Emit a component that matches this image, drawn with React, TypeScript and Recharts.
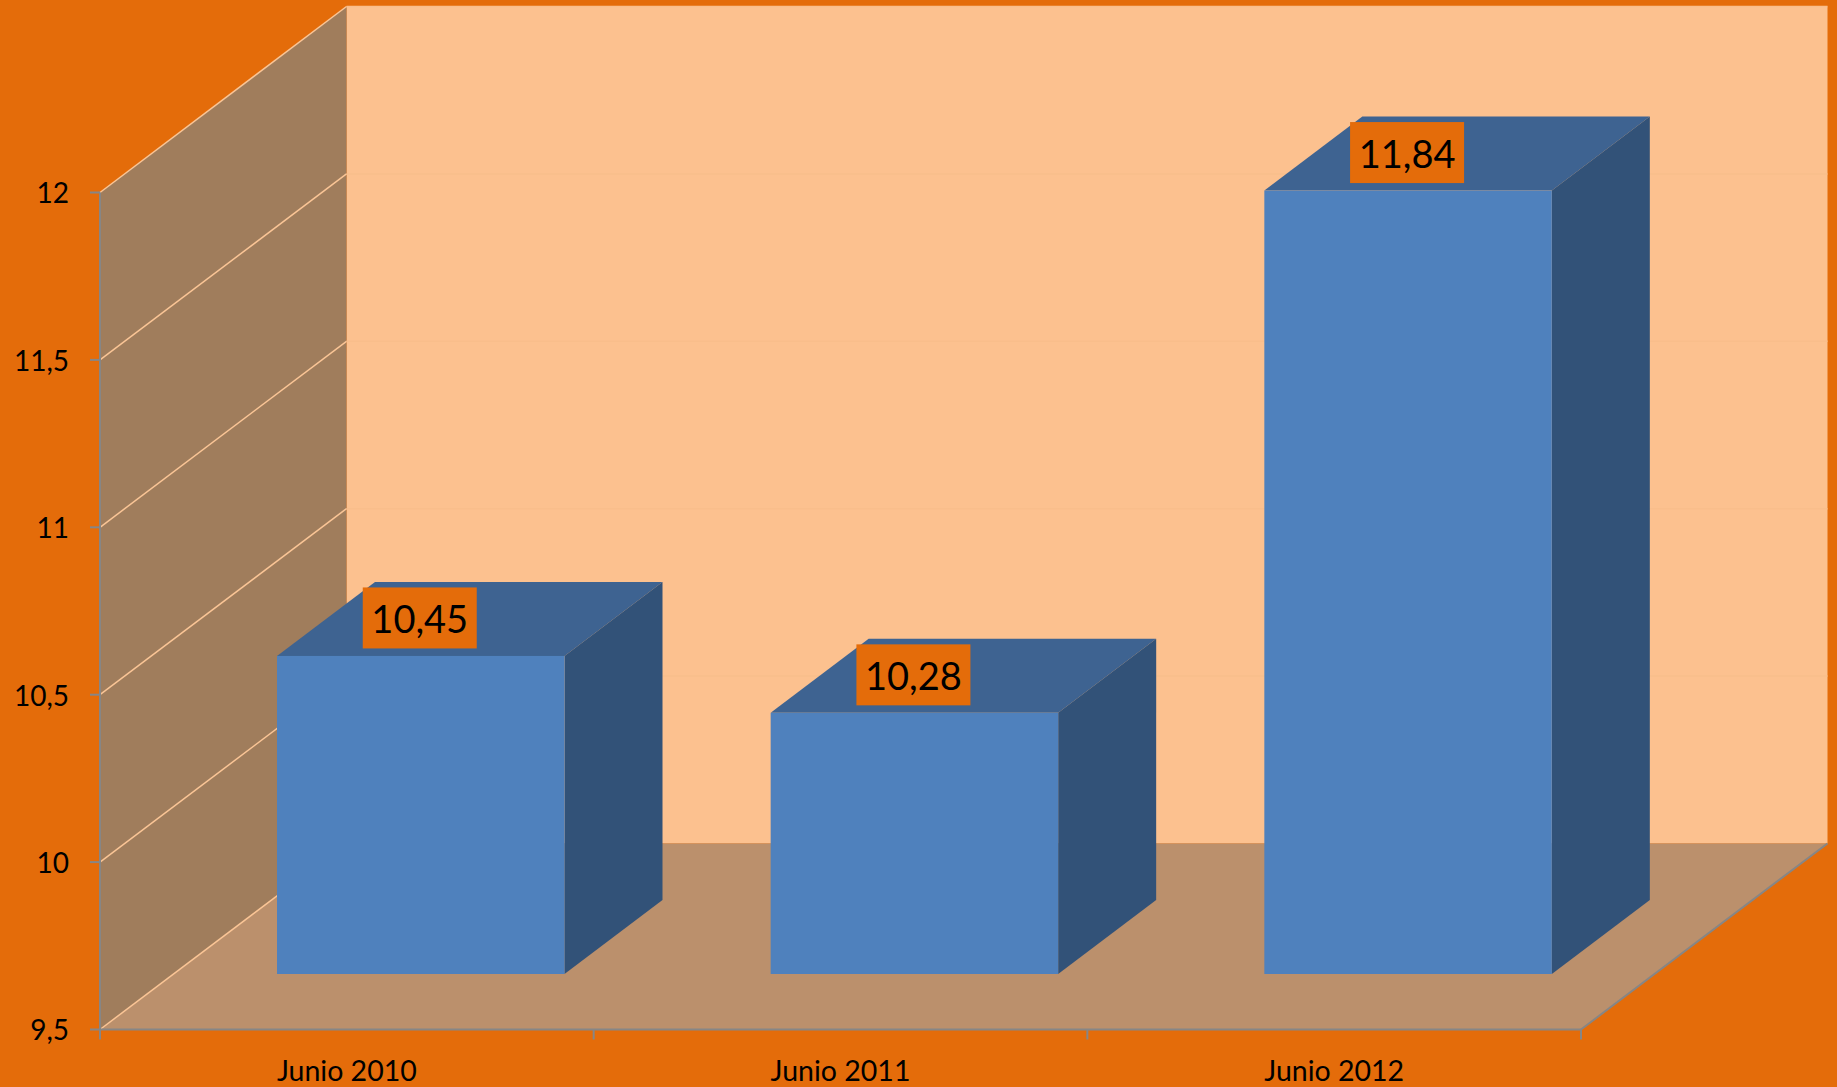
import React from 'react';
import { BarChart, Bar, XAxis, YAxis, ReferenceArea, ReferenceLine, LabelList } from 'recharts';

const categories = ['Junio 2010', 'Junio 2011', 'Junio 2012'];
const seriesValues = [10.45, 10.28, 11.84];
const yTicks = [9.5, 10, 10.5, 11, 11.5, 12];
const chartRows = categories.map((name, i) => ({ name, value: seriesValues[i] }));

// Oblique projection used for the walls and for the boxes.
const WALL_DX = 246.5;
const WALL_DY = 186;
const FRONT_DX = 74;
const FRONT_DY = 55.5;
const BOX_DX = 98;
const BOX_DY = 74;

const PAGE = '#E46C0A';
const BACK_WALL = '#FCC18F';
const SIDE_WALL = '#A07D5C';
const FLOOR = '#BB906C';
const RIM = '#FAC596';
const AXIS = '#868686';
const FONT = 'Lato, "Open Sans", sans-serif';

const comma = (v: number | string) => String(v).replace('.', ',');
const pts = (list: number[][]) => list.map((p) => p.join(',')).join(' ');

// Back wall, side wall and floor built from the plot rectangle.
function Room(props: any) {
  const { x, y, width, height } = props;
  const l = x;
  const r = x + width;
  const t = y;
  const b = y + height;
  const bl = l + WALL_DX;
  const br = r + WALL_DX;
  const tb = t - WALL_DY;
  const bb = b - WALL_DY;
  return (
    <g>
      <rect x={bl} y={tb} width={br - bl} height={bb - tb} fill={BACK_WALL} />
      <polygon points={pts([[l, t], [bl, tb], [bl, bb], [l, b]])} fill={SIDE_WALL} />
      <polygon points={pts([[l, b], [bl, bb], [br, bb], [r, b]])} fill={FLOOR} />
      <line x1={r} y1={b} x2={br} y2={bb} stroke={AXIS} strokeWidth={2} />
      <line x1={l} y1={b} x2={bl} y2={bb} stroke={RIM} strokeWidth={1.5} />
    </g>
  );
}

// One gridline: slanted over the side wall, then faint across the back wall.
function WallLine(props: any) {
  const { x1, y1, x2 } = props;
  const left = Math.min(x1, x2);
  const right = Math.max(x1, x2);
  return (
    <g>
      <line x1={left + WALL_DX} y1={y1 - WALL_DY} x2={right + WALL_DX} y2={y1 - WALL_DY} stroke="#F9BE8B" strokeWidth={1.5} />
      <line x1={left} y1={y1} x2={left + WALL_DX} y2={y1 - WALL_DY} stroke={RIM} strokeWidth={1.5} />
    </g>
  );
}

// Box with front, top and right faces.
function Box(props: any) {
  const { x, y, width, height } = props;
  const l = x + FRONT_DX;
  const r = l + width;
  const t = y - FRONT_DY;
  const b = t + height;
  return (
    <g>
      <polygon points={pts([[l, t], [l + BOX_DX, t - BOX_DY], [r + BOX_DX, t - BOX_DY], [r, t]])} fill="#3E6391" />
      <polygon points={pts([[r, t], [r + BOX_DX, t - BOX_DY], [r + BOX_DX, b - BOX_DY], [r, b]])} fill="#325278" />
      <rect x={l} y={t} width={width} height={height} fill="#4F81BD" />
    </g>
  );
}

function ValueTag(props: any) {
  const { x, y, width, value } = props;
  const cx = x + FRONT_DX + width / 2 - 1;
  const cy = y - FRONT_DY - 38;
  return (
    <g>
      <rect x={cx - 57} y={cy - 30.5} width={114} height={61} fill={PAGE} />
      <text x={cx} y={cy} textAnchor="middle" dominantBaseline="central" fontFamily={FONT} fontSize={38} fill="#000">
        {comma(value)}
      </text>
    </g>
  );
}

// Category label under its band, with tick marks on the band edges.
function CategoryTick(props: any) {
  const { x, y, payload, width, index } = props;
  const band = width / categories.length;
  const baseY = 1029.5;
  return (
    <g>
      <line x1={x - band / 2} y1={baseY} x2={x - band / 2} y2={baseY + 10} stroke={AXIS} strokeWidth={2} />
      {index === categories.length - 1 && (
        <line x1={x + band / 2} y1={baseY} x2={x + band / 2} y2={baseY + 10} stroke={AXIS} strokeWidth={2} />
      )}
      <text x={x} y={y} textAnchor="middle" dominantBaseline="central" fontFamily={FONT} fontSize={28.5} fill="#000">
        {payload.value}
      </text>
    </g>
  );
}

export default function App() {
  return (
    <div style={{ position: 'absolute', left: 0, top: 0, width: 1837, height: 1087, background: PAGE, overflow: 'hidden' }}>
      <BarChart
        width={1837}
        height={1087}
        data={chartRows}
        margin={{ top: 192.5, right: 256, bottom: 0, left: 0 }}
        barSize={287.5}
      >
        <ReferenceArea y1={9.5} y2={12} ifOverflow="visible" shape={Room} zIndex={10} />
        {yTicks.slice(1).map((t) => (
          <ReferenceLine key={t} y={t} ifOverflow="visible" shape={WallLine} zIndex={20} />
        ))}
        <XAxis
          dataKey="name"
          height={57.5}
          tickLine={false}
          tickMargin={34}
          stroke={AXIS}
          strokeWidth={2}
          interval={0}
          tick={CategoryTick}
        />
        <YAxis
          type="number"
          width={100}
          domain={[9.5, 12]}
          ticks={yTicks}
          interval={0}
          tickSize={10}
          tickMargin={21}
          tickFormatter={comma}
          stroke={AXIS}
          strokeWidth={2}
          tick={{ fontFamily: FONT, fontSize: 28, fill: '#000', dy: 1 }}
        />
        <Bar dataKey="value" isAnimationActive={false} shape={Box}>
          <LabelList dataKey="value" content={ValueTag} />
        </Bar>
      </BarChart>
    </div>
  );
}
